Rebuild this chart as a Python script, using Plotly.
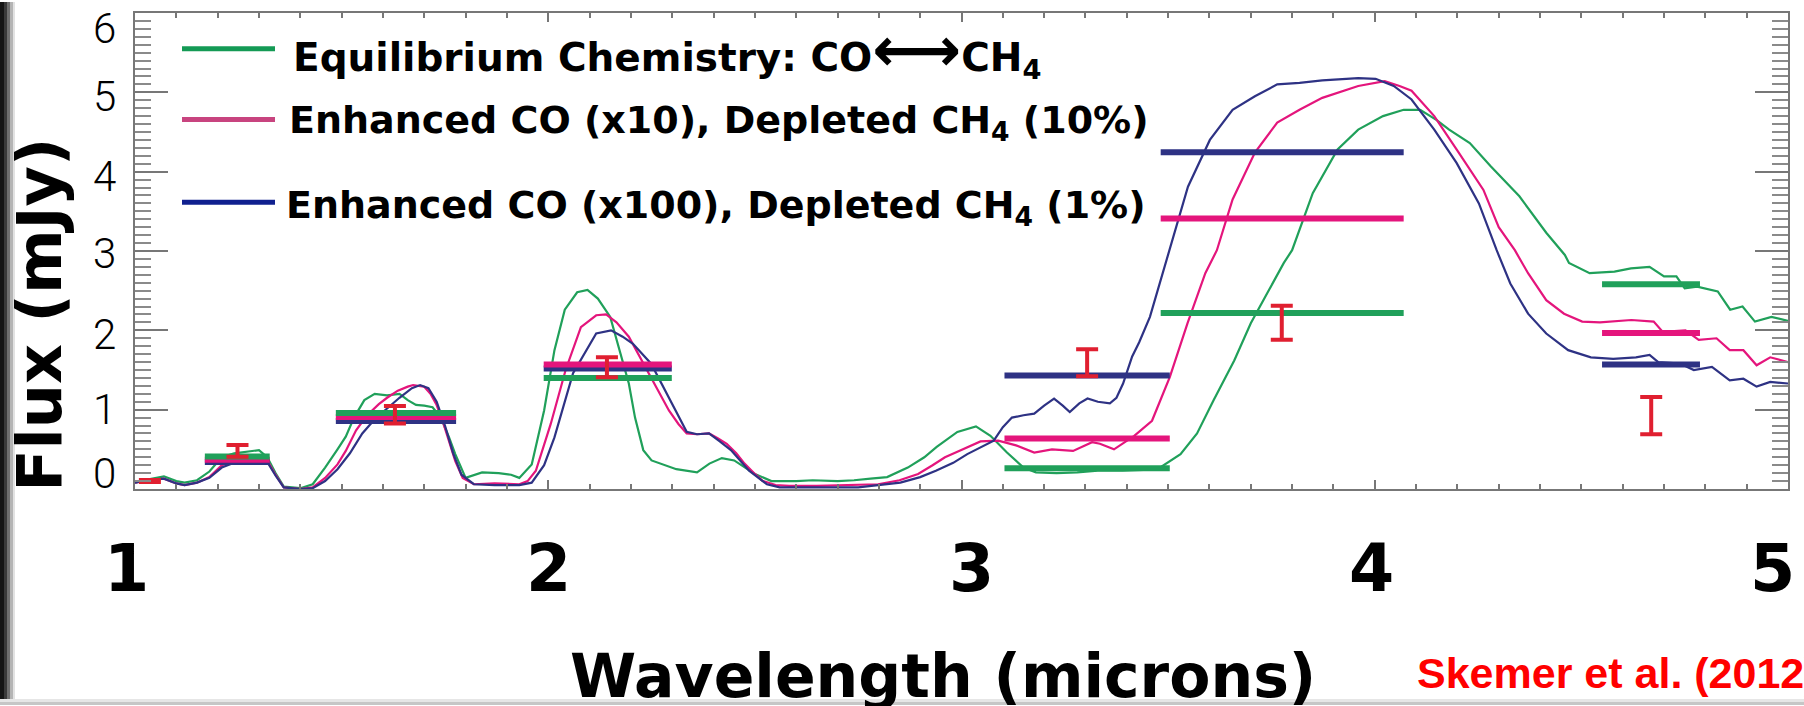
import plotly.graph_objects as go

# ---- model spectra (wavelength in microns, flux in mJy) ----
eq_wave = [1.00, 1.03, 1.07, 1.10, 1.12, 1.15, 1.18, 1.21, 1.24, 1.27, 1.30, 1.32, 1.34, 1.36, 1.40,
           1.43, 1.46, 1.49, 1.51, 1.53, 1.555, 1.58, 1.61, 1.64, 1.66, 1.68, 1.70, 1.72, 1.74, 1.76,
           1.775, 1.80, 1.84, 1.88, 1.91, 1.93, 1.96, 1.99, 2.015, 2.04, 2.07, 2.095, 2.12, 2.15, 2.17,
           2.195, 2.21, 2.23, 2.25, 2.28, 2.31, 2.36, 2.39, 2.42, 2.45, 2.50, 2.54, 2.60, 2.64, 2.70,
           2.74, 2.78, 2.82, 2.87, 2.91, 2.94, 2.97, 2.99, 3.035, 3.07, 3.11, 3.15, 3.18, 3.23, 3.28,
           3.33, 3.39, 3.44, 3.48, 3.53, 3.57, 3.61, 3.66, 3.70, 3.74, 3.78, 3.80, 3.85, 3.91, 3.96,
           4.02, 4.07, 4.11, 4.15, 4.18, 4.23, 4.28, 4.35, 4.415, 4.46, 4.47, 4.52, 4.58, 4.62, 4.665,
           4.70, 4.73, 4.75, 4.78, 4.83, 4.86, 4.89, 4.92, 4.96, 5.00]
eq_flux = [0.08, 0.12, 0.16, 0.10, 0.08, 0.11, 0.22, 0.40, 0.45, 0.47, 0.49, 0.40, 0.20, 0.03, 0.01,
           0.06, 0.27, 0.50, 0.66, 0.90, 1.12, 1.20, 1.18, 1.20, 1.12, 1.06, 1.05, 1.03, 0.90, 0.65,
           0.44, 0.14, 0.21, 0.20, 0.18, 0.14, 0.31, 0.99, 1.75, 2.26, 2.48, 2.51, 2.40, 2.17, 1.80,
           1.33, 0.90, 0.49, 0.36, 0.30, 0.25, 0.21, 0.32, 0.39, 0.36, 0.19, 0.10, 0.10, 0.11, 0.10,
           0.11, 0.13, 0.15, 0.27, 0.40, 0.53, 0.64, 0.72, 0.79, 0.67, 0.46, 0.27, 0.21, 0.20, 0.21,
           0.23, 0.23, 0.24, 0.27, 0.44, 0.70, 1.12, 1.62, 2.09, 2.47, 2.85, 3.01, 3.73, 4.28, 4.53,
           4.70, 4.78, 4.78, 4.65, 4.53, 4.36, 4.07, 3.69, 3.23, 2.95, 2.85, 2.72, 2.74, 2.78, 2.80,
           2.68, 2.68, 2.53, 2.55, 2.49, 2.26, 2.30, 2.11, 2.17, 2.12]

co10_wave = [1.00, 1.03, 1.07, 1.10, 1.12, 1.15, 1.18, 1.21, 1.24, 1.27, 1.30, 1.32, 1.34, 1.36, 1.40,
             1.43, 1.46, 1.49, 1.51, 1.535, 1.56, 1.59, 1.61, 1.636, 1.66, 1.673, 1.70, 1.715, 1.729,
             1.745, 1.757, 1.775, 1.793, 1.82, 1.87, 1.93, 1.95, 1.97, 2.006, 2.042, 2.079, 2.116, 2.14,
             2.165, 2.195, 2.22, 2.249, 2.27, 2.292, 2.315, 2.335, 2.36, 2.389, 2.41, 2.432, 2.455,
             2.475, 2.50, 2.518, 2.55, 2.583, 2.65, 2.72, 2.798, 2.85, 2.895, 2.93, 2.96, 2.99, 3.014,
             3.046, 3.089, 3.132, 3.176, 3.219, 3.27, 3.316, 3.335, 3.369, 3.418, 3.461, 3.504, 3.547,
             3.59, 3.618, 3.656, 3.71, 3.764, 3.818, 3.873, 3.96, 4.024, 4.06, 4.089, 4.144, 4.198,
             4.263, 4.30, 4.339, 4.371, 4.415, 4.458, 4.502, 4.545, 4.621, 4.675, 4.697, 4.752, 4.784,
             4.827, 4.859, 4.892, 4.924, 4.957, 5.00]
co10_flux = [0.08, 0.11, 0.13, 0.07, 0.05, 0.08, 0.15, 0.30, 0.35, 0.36, 0.40, 0.36, 0.18, 0.02, 0.00,
             0.02, 0.14, 0.31, 0.48, 0.74, 0.92, 1.07, 1.15, 1.24, 1.29, 1.31, 1.29, 1.20, 1.07,
             0.85, 0.65, 0.35, 0.14, 0.06, 0.07, 0.06, 0.10, 0.23, 0.82, 1.50, 2.04, 2.19, 2.20,
             2.10, 1.92, 1.68, 1.41, 1.20, 0.99, 0.82, 0.70, 0.69, 0.70, 0.64, 0.57, 0.45,
             0.32, 0.19, 0.105, 0.05, 0.04, 0.04, 0.05, 0.06, 0.11, 0.19, 0.30, 0.40, 0.47, 0.53,
             0.60, 0.61, 0.55, 0.46, 0.50, 0.48, 0.59, 0.57, 0.50, 0.67, 0.86, 1.41, 2.09,
             2.72, 3.01, 3.65, 4.24, 4.62, 4.78, 4.93, 5.08, 5.14, 5.08, 5.02, 4.70, 4.28,
             3.77, 3.30, 3.01, 2.72, 2.38, 2.21, 2.11, 2.10, 2.13, 2.11, 1.98, 2.00, 1.88,
             1.90, 1.75, 1.75, 1.56, 1.66, 1.60]

co100_wave = [1.00, 1.03, 1.07, 1.10, 1.12, 1.15, 1.18, 1.21, 1.24, 1.27, 1.30, 1.32, 1.34, 1.36, 1.40,
              1.43, 1.46, 1.49, 1.52, 1.55, 1.58, 1.61, 1.64, 1.67, 1.69, 1.71, 1.73, 1.75, 1.77, 1.79,
              1.82, 1.87, 1.93, 1.96, 1.99, 2.015, 2.06, 2.116, 2.152, 2.18, 2.205, 2.249, 2.292, 2.335,
              2.36, 2.389, 2.415, 2.442, 2.486, 2.529, 2.56, 2.65, 2.75, 2.852, 2.90, 2.938, 2.98,
              3.014, 3.05, 3.078, 3.10, 3.122, 3.15, 3.176, 3.20, 3.224, 3.245, 3.262, 3.285, 3.305,
              3.33, 3.359, 3.375, 3.391, 3.413, 3.43, 3.456, 3.504, 3.548, 3.601, 3.656, 3.71, 3.764,
              3.818, 3.873, 3.96, 4.002, 4.046, 4.089, 4.144, 4.198, 4.252, 4.295, 4.328, 4.371, 4.415,
              4.468, 4.523, 4.577, 4.632, 4.665, 4.686, 4.74, 4.772, 4.816, 4.859, 4.892, 4.924, 4.957,
              5.00]
co100_flux = [0.08, 0.11, 0.13, 0.07, 0.05, 0.08, 0.14, 0.27, 0.33, 0.34, 0.37, 0.34, 0.17, 0.02, 0.00,
              0.01, 0.10, 0.25, 0.45, 0.70, 0.88, 1.02, 1.15, 1.27, 1.31, 1.27, 1.10, 0.80, 0.45, 0.18,
              0.06, 0.05, 0.05, 0.08, 0.30, 0.65, 1.46, 1.96, 2.00, 1.92, 1.83, 1.58, 1.16, 0.72,
              0.69, 0.70, 0.60, 0.49, 0.23, 0.06, 0.02, 0.02, 0.02, 0.08, 0.15, 0.23, 0.33,
              0.44, 0.53, 0.61, 0.78, 0.90, 0.93, 0.95, 1.05, 1.14, 1.05, 0.97, 1.08, 1.14,
              1.10, 1.08, 1.15, 1.33, 1.67, 1.85, 2.17, 3.01, 3.81, 4.40, 4.78, 4.95, 5.10,
              5.12, 5.15, 5.18, 5.17, 5.08, 4.91, 4.53, 4.11, 3.60, 3.01, 2.59, 2.21, 1.96,
              1.75, 1.66, 1.64, 1.66, 1.69, 1.60, 1.58, 1.50, 1.54, 1.37, 1.39, 1.29, 1.35,
              1.33]

# ---- band-integrated model fluxes: (band start, band end) and flux per model ----
band_lo = [1.169, 1.486, 1.989, 3.104, 3.482, 4.550]
band_hi = [1.326, 1.777, 2.299, 3.504, 4.070, 4.787]
band_eq = [0.41, 0.957, 1.40, 0.26, 2.22, 2.58]
band_co10 = [0.37, 0.907, 1.57, 0.636, 3.41, 1.966]
band_co100 = [0.34, 0.857, 1.52, 1.43, 4.245, 1.568]

# ---- photometry with 1-sigma errors ----
obs_wave = [1.036, 1.248, 1.629, 2.142, 3.304, 3.775, 4.669]
obs_flux = [0.10, 0.48, 0.935, 1.535, 1.59, 2.095, 0.925]
obs_err = [0.012, 0.075, 0.11, 0.125, 0.17, 0.215, 0.235]

# axis tick labels
x_ticks = [1, 2, 3, 4, 5]
x_ticktext = ["1", "2", "3", "4", "5"]
y_ticks = [0, 1, 2, 3, 4, 5, 6]
y_ticktext = ["0", "1", "2", "3", "4", "5", "6"]

legend_labels = [
    "Equilibrium Chemistry: CO<span style=\"font-size:62px\">\u27f7</span>CH<sub>4</sub>",
    "Enhanced CO (x10), Depleted CH<sub>4</sub> (10%)",
    "Enhanced CO (x100), Depleted CH<sub>4</sub> (1%)",
]
legend_sizes = [39, 38, 38]

GREEN = "#20a05a"
PINK = "#e4157c"
NAVY = "#2e3284"
RED = "#e01f30"
LEG_COLORS = ["#149a55", "#c8447f", "#10208f"]

W, H = 1804, 706
ML, MR, MT, MB = 135, 16, 11, 217
PW, PH = W - ML - MR, H - MT - MB
BOLD = "DejaVu Sans"


def px_x(px):
    return (px - ML) / PW


def px_y(py):
    return (H - MB - py) / PH


fig = go.Figure()

# spectra
for wave, flux, color, name in [
    (eq_wave, eq_flux, GREEN, "eq"),
    (co10_wave, co10_flux, PINK, "co10"),
    (co100_wave, co100_flux, NAVY, "co100"),
]:
    fig.add_trace(go.Scatter(x=wave, y=flux, mode="lines", name=name,
                             line=dict(color=color, width=2.2), showlegend=False))


def band_segments(values):
    xs, ys = [], []
    for lo, hi, v in zip(band_lo, band_hi, values):
        xs += [lo, hi, None]
        ys += [v, v, None]
    return xs, ys


for values, color in [(band_co100, NAVY), (band_co10, PINK), (band_eq, GREEN)]:
    bx, by = band_segments(values)
    fig.add_trace(go.Scatter(x=bx, y=by, mode="lines", line=dict(color=color, width=6),
                             showlegend=False, connectgaps=False))

# photometry error bars
fig.add_trace(go.Scatter(
    x=obs_wave, y=obs_flux, mode="markers", marker=dict(size=1, color=RED, opacity=0),
    error_y=dict(type="data", array=obs_err, color=RED, thickness=4, width=11, visible=True),
    showlegend=False))

annotations = []
shapes = []

# tick labels, nudged so the end labels stay on the page
x_label_shift = [-9, 0, 10, -3, -16]
for v, t, dx in zip(x_ticks, x_ticktext, x_label_shift):
    annotations.append(dict(text=t, xref="x", yref="paper", x=v, y=px_y(569), xshift=dx,
                            xanchor="center", yanchor="middle", showarrow=False,
                            font=dict(family=BOLD, size=65, color="black", weight=700)))
y_label_shift = [16, 0, -4, -2, -5, -4, -15]
for v, t, dy in zip(y_ticks, y_ticktext, y_label_shift):
    annotations.append(dict(text=t, xref="paper", yref="y", x=px_x(118), y=v, yshift=dy,
                            xanchor="right", yanchor="middle", showarrow=False,
                            font=dict(family="Roboto", size=42, color="black", weight=300)))

# legend
leg_y_line = [47, 118, 201]
leg_y_text = [48, 121, 206]
leg_x_text = [291, 287, 284]
for lab, col, yl, yt, xt, fs in zip(legend_labels, LEG_COLORS, leg_y_line, leg_y_text,
                                    leg_x_text, legend_sizes):
    shapes.append(dict(type="line", xref="paper", yref="paper",
                       x0=px_x(182), x1=px_x(275), y0=px_y(yl), y1=px_y(yl),
                       line=dict(color=col, width=5)))
    annotations.append(dict(text=lab, xref="paper", yref="paper", x=px_x(xt), y=px_y(yt),
                            xanchor="left", yanchor="middle", showarrow=False,
                            font=dict(family=BOLD, size=fs, color="black", weight=700)))

# axis titles and credit
annotations.append(dict(text="Flux (mJy)", xref="paper", yref="paper", x=px_x(40), y=px_y(314),
                        textangle=-90, xanchor="center", yanchor="middle", showarrow=False,
                        font=dict(family=BOLD, size=62, color="black", weight=700)))
annotations.append(dict(text="Wavelength (microns)", xref="paper", yref="paper", x=px_x(943),
                        y=px_y(677), xanchor="center", yanchor="middle", showarrow=False,
                        font=dict(family=BOLD, size=60, color="black", weight=700)))
annotations.append(dict(text="Skemer et al. (2012)", xref="paper", yref="paper", x=px_x(1415),
                        y=px_y(674), xanchor="left", yanchor="middle", showarrow=False,
                        font=dict(family="Liberation Sans", size=43, color="#ff0000", weight=700)))

# dark page edge on the left and faint rule at the bottom
edge = [(0, 4, "#151515"), (4, 7, "#3a3a3a"), (7, 10, "#6f6f6f"), (10, 13, "#b4b4b4"),
        (13, 15, "#e2e2e2")]
for x0, x1, c in edge:
    shapes.append(dict(type="rect", xref="paper", yref="paper", x0=px_x(x0), x1=px_x(x1),
                       y0=px_y(H), y1=px_y(0), fillcolor=c, line=dict(width=0), layer="above"))
for y0, y1, c in [(700, 703, "#e6e6e6"), (703, 706, "#c6c6c6")]:
    shapes.append(dict(type="rect", xref="paper", yref="paper", x0=px_x(0), x1=px_x(W),
                       y0=px_y(y1), y1=px_y(y0), fillcolor=c, line=dict(width=0), layer="above"))

axis_gray = "#777777"
fig.update_layout(
    width=W, height=H, margin=dict(l=ML, r=MR, t=MT, b=MB, pad=0),
    plot_bgcolor="white", paper_bgcolor="white",
    showlegend=False, annotations=annotations, shapes=shapes,
    xaxis=dict(range=[1, 5], showline=True, linecolor=axis_gray, linewidth=2, mirror="ticks",
               ticks="inside", ticklen=9, tickwidth=2, tickcolor=axis_gray,
               tickvals=x_ticks, showticklabels=False, showgrid=False, zeroline=False,
               minor=dict(dtick=0.1, tick0=1, ticks="inside", ticklen=5, tickwidth=1.5,
                          tickcolor=axis_gray, showgrid=False)),
    yaxis=dict(range=[0, 6], showline=True, linecolor=axis_gray, linewidth=2, mirror="ticks",
               ticks="inside", ticklen=33, tickwidth=1.5, tickcolor=axis_gray,
               tickvals=y_ticks, showticklabels=False, showgrid=False, zeroline=False,
               minor=dict(dtick=0.1, tick0=0, ticks="inside", ticklen=16, tickwidth=2,
                          tickcolor="#8a8a8a", showgrid=False)),
)

fig.write_html("out.html")
